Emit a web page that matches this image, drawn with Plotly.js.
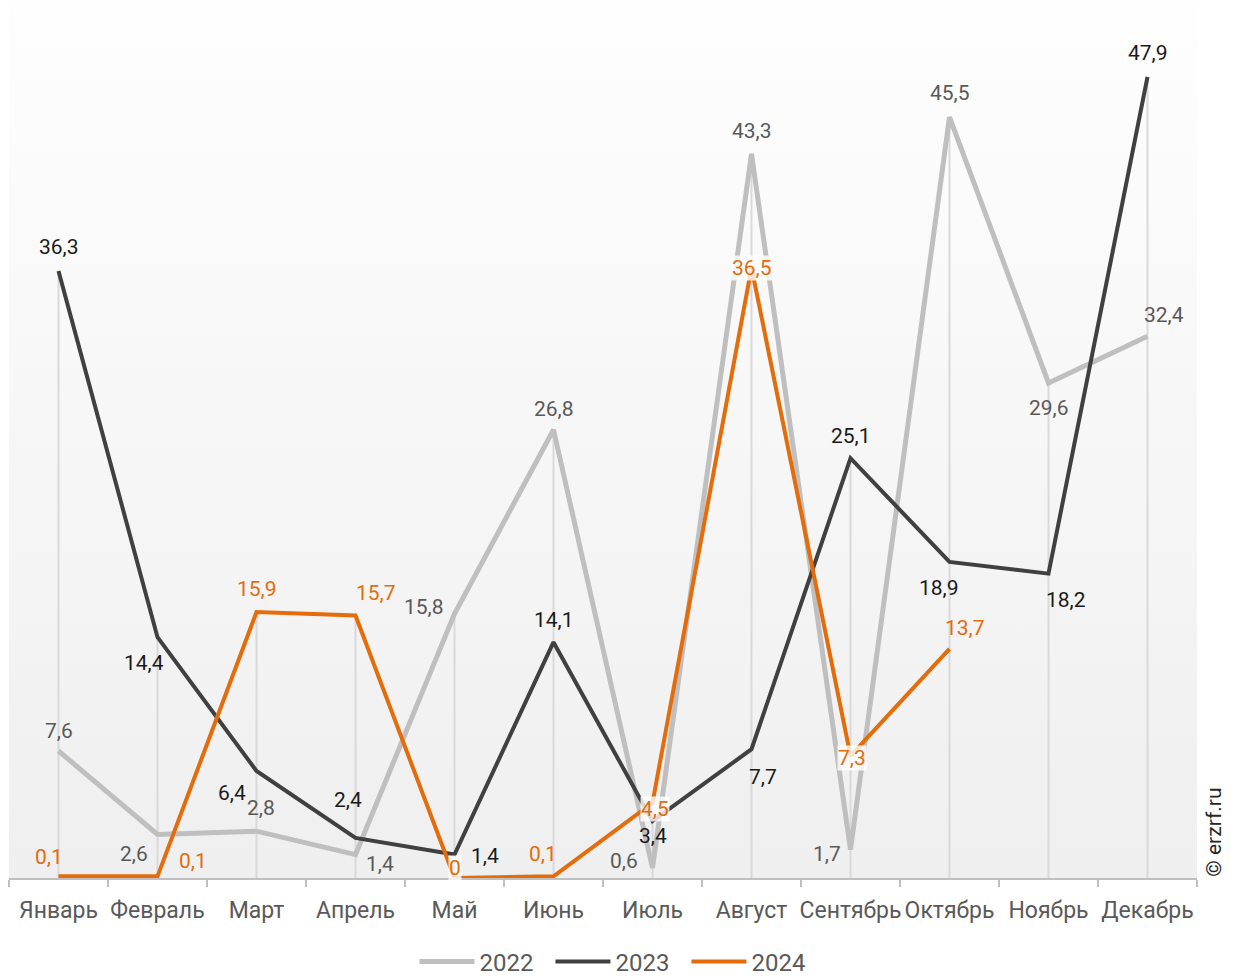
<!DOCTYPE html>
<html><head><meta charset="utf-8">
<script src="https://cdn.plot.ly/plotly-3.0.1.min.js"></script>
<style>html,body{margin:0;padding:0;background:#fff}#chart{width:1234px;height:976px}</style>
</head><body><div id="chart"></div>
<script>
const months = ['Январь','Февраль','Март','Апрель','Май','Июнь','Июль','Август','Сентябрь','Октябрь','Ноябрь','Декабрь'];
const y2022 = [7.6, 2.6, 2.8, 1.4, 15.8, 26.8, 0.6, 43.3, 1.7, 45.5, 29.6, 32.4];
const y2023 = [36.3, 14.4, 6.4, 2.4, 1.4, 14.1, 3.4, 7.7, 25.1, 18.9, 18.2, 47.9];
const y2024 = [0.1, 0.1, 15.9, 15.7, 0, 0.1, 4.5, 36.5, 7.3, 13.7];
const seriesNames = ['2022','2023','2024'];

// label offsets in pixels (style)
const off2022 = [[0,-20],[-24,19],[4,-23],[24,9],[-31,-7],[0,-21],[-29,-7],[0,-23],[-24,4],[0,-24],[0,25],[16,-21]];
const off2023 = [[0,-24],[-14,26],[-25,22],[-8,-38],[30,1],[0,-22],[0,15],[11,28],[0,-22],[-11,26],[17,26],[0,-24]];
const off2024 = [[-10,-19],[35,-15],[0,-23],[20,-22],[0,-10],[-11,-22],[2,6],[0,0],[1,2],[15,-21]];
const box2024 = [false,false,false,false,true,false,true,true,true,false];

const colors = ['#BFBFBF','#404040','#E46C0A'];
const labelColors = ['#595959','#1a1a1a','#E46C0A'];
const widths = [5,4,4];
const fmt = v => String(v).replace('.', ',');

const allY = [y2022, y2023, y2024];
const traces = allY.map((ys, k) => ({
  type:'scatter', mode:'lines', name: seriesNames[k],
  x: months.slice(0, ys.length), y: ys,
  line:{color:colors[k], width:widths[k]},
  hoverinfo:'skip'
}));

// drop lines from the highest point of each category
const shapes = months.map((m, i) => {
  const vals = allY.map(a => a[i]).filter(v => v !== undefined);
  return {type:'line', xref:'x', yref:'y', x0:m, x1:m, y0:0, y1:Math.max(...vals),
    line:{color:'#D9D9D9', width:2}, layer:'below'};
});

const annotations = [];
const offs = [off2022, off2023, off2024];
allY.forEach((ys, k) => {
  ys.forEach((v, i) => {
    const a = {x: months[i], y: v, xref:'x', yref:'y', text: fmt(v), showarrow:false,
      xshift: offs[k][i][0], yshift: -offs[k][i][1],
      font:{family:'Roboto', size:21, color:labelColors[k]}};
    if (k === 2 && box2024[i]) { a.bgcolor = 'rgba(255,255,255,0.8)'; a.borderpad = 0; }
    annotations.push(a);
  });
});
annotations.push({xref:'paper', yref:'paper', x:1.0143, y:0.053, text:'© erzrf.ru', textangle:-90,
  showarrow:false, xanchor:'center', yanchor:'middle',
  font:{family:'Roboto', size:21, color:'#262626'}});

const svg = '<svg xmlns="http://www.w3.org/2000/svg" width="100" height="100" preserveAspectRatio="none"><defs><linearGradient id="g" x1="0" y1="0" x2="0" y2="1"><stop offset="0" stop-color="#fefefe"/><stop offset="1" stop-color="#efefef"/></linearGradient></defs><rect width="100" height="100" fill="url(#g)"/></svg>';

const layout = {
  width:1234, height:976,
  margin:{l:9, r:37, t:5, b:98, autoexpand:false},
  paper_bgcolor:'#ffffff', plot_bgcolor:'rgba(0,0,0,0)',
  showlegend:true,
  legend:{orientation:'h', x:0.513, xanchor:'center', y:-0.096, yanchor:'middle',
    font:{family:'Roboto', size:24, color:'#595959'}, itemwidth:55, entrywidth:66, traceorder:'normal'},
  xaxis:{type:'category', categoryarray: months, range:[-0.5, 11.5],
    showline:true, linecolor:'#BFBFBF', linewidth:2, ticks:'outside', tickson:'boundaries',
    ticklen:7, tickcolor:'#BFBFBF', tickwidth:2, showgrid:false, zeroline:false,
    ticklabelstandoff:10, tickangle:0,
    tickfont:{family:'Roboto', size:23, color:'#595959'}, fixedrange:true, automargin:false},
  yaxis:{range:[0, 52.2], visible:false, showgrid:false, zeroline:false, fixedrange:true},
  shapes: shapes,
  annotations: annotations,
  images:[{source:'data:image/svg+xml;charset=utf-8,' + encodeURIComponent(svg),
    xref:'paper', yref:'paper', x:0, y:1, sizex:1, sizey:1, sizing:'stretch',
    xanchor:'left', yanchor:'top', layer:'below'}]
};
Plotly.newPlot('chart', traces, layout, {displayModeBar:false, staticPlot:true});
</script></body></html>
